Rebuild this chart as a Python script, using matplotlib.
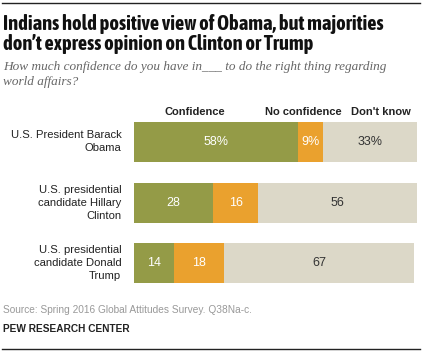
import numpy as np
import matplotlib.pyplot as plt
from matplotlib.lines import Line2D

# ------------------------------
# Data
# ------------------------------
rows = ["U.S. President Barack\nObama",
        "U.S. presidential\ncandidate Hillary\nClinton",
        "U.S. presidential\ncandidate Donald\nTrump"]
confidence = [58, 28, 14]
no_confidence = [9, 16, 18]
dont_know = [33, 56, 67]
value_labels = [["58%", "9%", "33%"],
                ["28", "16", "56"],
                ["14", "18", "67"]]
series_names = ["Confidence", "No confidence", "Don't know"]

colors = ["#949b47", "#eaa12e", "#dcd8c8"]
text_colors = ["white", "white", "#333333"]

W, H = 423, 352
NARROW = ["Asap Condensed", "Liberation Sans", "DejaVu Sans"]
SANS = ["Liberation Sans", "DejaVu Sans"]
SERIF = ["Liberation Serif", "DejaVu Serif"]


def fx(px):
    return px / W


def fy(py):
    return 1 - py / H


fig = plt.figure(figsize=(W / 100, H / 100), dpi=100)

# rules at top and bottom
fig.add_artist(Line2D([fx(2), fx(420)], [fy(3), fy(3)], color="#222222", lw=1.0))
fig.add_artist(Line2D([fx(2), fx(420)], [fy(349), fy(349)], color="#222222", lw=1.0))

# title / subtitle
fig.text(fx(3), fy(14), "Indians hold positive view of Obama, but majorities\n"
         "don\u2019t express opinion on Clinton or Trump",
         family=NARROW, weight="bold", fontsize=14.7, va="top", ha="left",
         linespacing=0.98, color="#111111")
fig.text(fx(3), fy(61), "How much confidence do you have in___ to do the right thing regarding\n"
         "world affairs?",
         family=SERIF, style="italic", fontsize=9.5, va="top", ha="left",
         color="#666666", linespacing=1.3)

# ------------------------------
# Bars
# ------------------------------
ax = fig.add_axes([fx(134), fy(293.8), fx(416.7) - fx(134), (293.8 - 111.4) / H])
y = np.arange(len(rows))
left = np.zeros(len(rows))
series = [confidence, no_confidence, dont_know]
for k, vals in enumerate(series):
    vals = np.array(vals, dtype=float)
    ax.barh(y, vals, left=left, height=0.66, color=colors[k], edgecolor="none")
    for i in range(len(rows)):
        ax.text(left[i] + vals[i] / 2, y[i], value_labels[i][k], ha="center", va="center",
                color=text_colors[k], family=SANS, fontsize=9)
    left += vals

ax.set_xlim(0, 100)
ax.set_ylim(2.5, -0.5)
ax.axis("off")

for i, lab in enumerate(rows):
    ax.text(-4.5, y[i], lab, ha="right", va="center", family=SANS, fontsize=8.1,
            color="#222222", linespacing=1.38)

# header labels
hdr_y = fy(112)
fig.text(fx(195), hdr_y, series_names[0], ha="center", va="center", family=SANS,
         weight="bold", fontsize=8, color="#222222")
fig.text(fx(303), hdr_y, series_names[1], ha="center", va="center", family=SANS,
         weight="bold", fontsize=8, color="#222222")
fig.text(fx(411), hdr_y, series_names[2], ha="right", va="center", family=SANS,
         weight="bold", fontsize=8, color="#222222")

# footer
fig.text(fx(3), fy(310), "Source: Spring 2016 Global Attitudes Survey. Q38Na-c.",
         family=SANS, fontsize=7.3, color="#999999", va="center", ha="left")
fig.text(fx(3), fy(329), "PEW RESEARCH CENTER", family=SANS, weight="bold",
         fontsize=7.3, color="#222222", va="center", ha="left")

fig.savefig("out.png", dpi=100)
